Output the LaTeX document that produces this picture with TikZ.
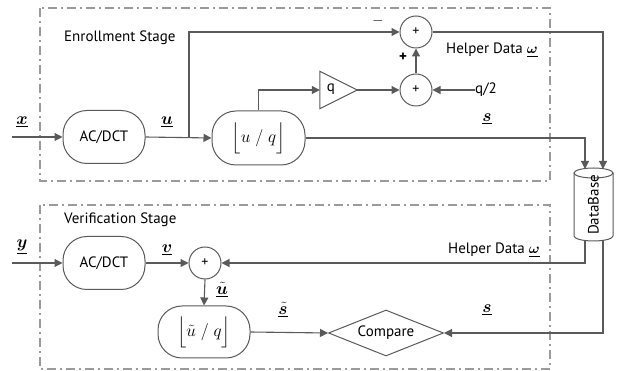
\documentclass[tikz,border=0pt]{standalone}
\usepackage{amsmath,bm}
\usepackage{fontspec}
\setmainfont{PT Sans}
\usetikzlibrary{arrows.meta,shapes.geometric}
\definecolor{lc}{HTML}{5A5A5A}
\definecolor{sc}{HTML}{9A9A9A}
\begin{document}
\begin{tikzpicture}[x=1pt,y=-1pt,
  line/.style={draw=lc, line width=1.1pt},
  arr/.style={line, -{Triangle[length=8pt,width=8pt]}},
  blk/.style={draw=lc, line width=1pt, rounded corners=24pt, minimum width=82pt, minimum height=53pt, inner sep=0pt},
  sumnode/.style={circle, draw=lc, line width=1pt, minimum size=32pt, inner sep=0pt, font=\fontsize{14}{16}\selectfont},
  stage/.style={draw=sc, line width=1.2pt, dash pattern=on 9pt off 4pt on 2pt off 4pt},
  lbl/.style={inner sep=0pt, font=\fontsize{17}{19}\selectfont},
  txt/.style={font=\fontsize{15}{17}\selectfont, inner sep=0pt}]
\useasboundingbox (0,0) rectangle (619,371);
% stage frames
\draw[stage] (40,8) rectangle (550,181);
\draw[stage] (40,205) rectangle (550,369);
\node[txt, anchor=west] (enr) at (64,38) {Enrollment Stage};
\node[txt, anchor=west] (ver) at (64,220) {Verification Stage};
% enrollment blocks
\node[blk, font=\fontsize{15}{17}\selectfont] (ac1) at (104,137) {AC/DCT};
\node[blk, minimum width=93pt, minimum height=54pt, font=\fontsize{19}{22}\selectfont] (ulq) at (258.5,138) {$\Big\lfloor u\;/\;q\Big\rfloor$};
\node[minimum width=37pt, minimum height=37pt, inner sep=0pt] (amp) at (338.5,90) {};
\draw[draw=lc, line width=1pt] (amp.north west) -- (amp.east) -- (amp.south west) -- cycle;
\node[txt] (ampq) at (331,89) {q};
\node[sumnode] (c1) at (416,32) {+};
\node[sumnode] (c2) at (416,90) {+};
\node[txt] (q2) at (486,90) {q/2};
\node[txt] (minus) at (378,21) {$-$};
\node[txt] (plus) at (403,57) {\textbf{+}};
% database
\node[minimum width=39pt, minimum height=68pt, inner sep=0pt] (db) at (593.5,205) {};
\draw[draw=lc, line width=1pt, fill=white] (574,173) -- (574,236) arc[start angle=180, end angle=0, x radius=19.5, y radius=5] -- (613,173);
\draw[draw=lc, line width=1pt] (593.5,173) ellipse [x radius=19.5, y radius=5];
\node[txt, rotate=90] (dbt) at (593.5,205) {DataBase};
\coordinate (dbA) at (585,169);
\coordinate (dbB) at (603,169);
\coordinate (dbC) at (585,240);
\coordinate (dbD) at (603,240);
\coordinate (xin) at (12,137);
\coordinate (yin) at (12,263);
\coordinate (br) at (189,137);
% enrollment connectors
\draw[arr] (xin) -- (ac1.west);
\draw[arr] (ac1.east) -- (ulq.west);
\draw[arr] (br) |- (c1.west);
\draw[arr] (ulq.north) |- (amp.west);
\draw[arr] (amp.east) -- (c2.west);
\draw[arr] (q2.west) -- (c2.east);
\draw[arr] (c2.north) -- (c1.south);
\draw[arr] (c1.east) -| (dbB);
\draw[arr] (ulq.east) -| (dbA);
% enrollment labels
\node[lbl] (lx) at (22,122) {$\underline{\bm{x}}$};
\node[lbl] (lu) at (167,122) {$\underline{\bm{u}}$};
\node[lbl] (ls) at (487,119) {$\underline{\bm{s}}$};
\node[txt] (hd1) at (492,50) {Helper Data $\underline{\bm{\omega}}$};
% verification blocks
\node[blk, font=\fontsize{15}{17}\selectfont] (ac2) at (104,263) {AC/DCT};
\node[sumnode] (c3) at (205,263) {+};
\node[blk, minimum width=92pt, minimum height=52pt, font=\fontsize{19}{22}\selectfont] (ulq2) at (204,332) {$\Big\lfloor \tilde{u}\;/\;q\Big\rfloor$};
\node[diamond, draw=lc, line width=1pt, aspect=2.5, minimum width=115pt, minimum height=46pt,
      inner sep=0pt, font=\fontsize{15}{17}\selectfont] (cmp) at (386,333) {Compare};
% verification connectors
\draw[arr] (yin) -- (ac2.west);
\draw[arr] (ac2.east) -- (c3.west);
\draw[arr] (dbC) |- (c3.east);
\draw[arr] (c3.south) -- (ulq2.north);
\draw[arr] (ulq2.east) -- (cmp.west);
\draw[arr] (dbD) |- (cmp.east);
% verification labels
\node[lbl] (ly) at (22,247) {$\underline{\bm{y}}$};
\node[lbl] (lv) at (167,250) {$\underline{\bm{v}}$};
\node[lbl] (lut) at (222,290) {$\underline{\tilde{\bm{u}}}$};
\node[lbl] (lst) at (283,310) {$\underline{\tilde{\bm{s}}}$};
\node[lbl] (ls2) at (487,310) {$\underline{\bm{s}}$};
\node[txt] (hd2) at (494,250) {Helper Data $\underline{\bm{\omega}}$};
\end{tikzpicture}
\end{document}
